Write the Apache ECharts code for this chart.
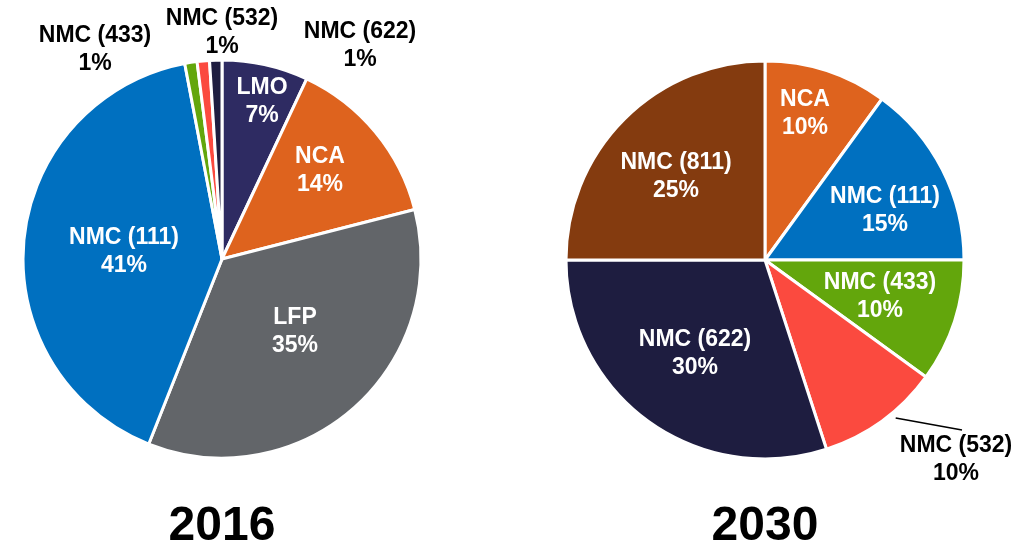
<!DOCTYPE html>
<html>
<head>
<meta charset="utf-8">
<script src="https://cdn.jsdelivr.net/npm/echarts@6/dist/echarts.min.js"></script>
<style>
html, body { margin: 0; padding: 0; background: #fff; }
#main { width: 1033px; height: 550px; }
</style>
</head>
<body>
<div id="main"></div>
<script>
// chemistry shares (%)
var names2016 = ["LMO", "NCA", "LFP", "NMC (111)", "NMC (433)", "NMC (532)", "NMC (622)"];
var values2016 = [7, 14, 35, 41, 1, 1, 1];
var names2030 = ["NCA", "NMC (111)", "NMC (433)", "NMC (532)", "NMC (622)", "NMC (811)"];
var values2030 = [10, 15, 10, 10, 30, 25];
var titles = ["2016", "2030"];

var colorMap = {
    "LMO": "#2e2b62",
    "NCA": "#de631e",
    "LFP": "#626569",
    "NMC (111)": "#0070c0",
    "NMC (433)": "#63a60c",
    "NMC (532)": "#fb4a3f",
    "NMC (622)": "#1e1d40",
    "NMC (811)": "#843b0f"
};

// label centres (px) - the chart places the pies, these just place text
var labelPos2016 = [[262, 102], [320, 171], [295, 332], [124, 252], [95, 50], [222, 33], [360, 46]];
var labelPos2030 = [[805, 114], [885, 211], [880, 297], [956, 460], [695, 354], [676, 177]];
var outside2016 = {"NMC (433)": 1, "NMC (532)": 1, "NMC (622)": 1};
var outside2030 = {"NMC (532)": 1};

var centers = [[222, 259], [765, 260]];
var pieRadius = 199;

var labelFont = {
    fontFamily: "Liberation Sans, Arial, sans-serif",
    fontWeight: "bold",
    fontSize: 23,
    lineHeight: 28
};

var buildData = function(names, values, outsideSet){
    return names.map(function(n, i){
        var out = !!outsideSet[n];
        return {
            name: n,
            value: values[i],
            itemStyle: { color: colorMap[n] },
            label: { color: out ? "#000" : "#fff" }
        };
    });
};

var makeLayout = function(pos){
    return function(params){
        var p = pos[params.dataIndex];
        return { x: p[0], y: p[1], align: "center", verticalAlign: "middle" };
    };
};

var pieBase = function(center, data, pos){
    return {
        type: "pie",
        radius: pieRadius,
        center: center,
        startAngle: 90,
        clockwise: true,
        avoidLabelOverlap: false,
        animation: false,
        itemStyle: { borderColor: "#fff", borderWidth: 3 },
        label: Object.assign({ show: true, position: "inside", formatter: "{b}\n{c}%" }, labelFont),
        labelLine: { show: false },
        labelLayout: makeLayout(pos),
        emphasis: { disabled: true },
        data: data
    };
};

// leader line for the 2030 NMC (532) slice: from just outside the slice to above the label
var leaderLine = function(){
    var idx = names2030.indexOf("NMC (532)");
    var total = 0, before = 0;
    for (var i = 0; i < values2030.length; i++) {
        total += values2030[i];
        if (i < idx) before += values2030[i];
    }
    var frac = (before + values2030[idx] * 0.4) / total;
    var ang = frac * Math.PI * 2;
    var c = centers[1];
    var r = pieRadius + 6;
    var lp = labelPos2030[idx];
    return {
        type: "line",
        silent: true,
        shape: {
            x1: c[0] + r * Math.sin(ang), y1: c[1] - r * Math.cos(ang),
            x2: lp[0] + 6, y2: lp[1] - 30
        },
        style: { stroke: "#000", lineWidth: 1.5 }
    };
};

var titleStyle = { fontFamily: "Liberation Sans Narrow, Arial Narrow, sans-serif", fontWeight: "bold", fontSize: 48, color: "#000" };

var myChart = echarts.init(document.getElementById("main"));
myChart.setOption({
    backgroundColor: "#fff",
    title: [{
        text: titles[0],
        left: centers[0][0] - 5, top: 498,
        textAlign: "center",
        textStyle: titleStyle
    }, {
        text: titles[1],
        left: centers[1][0] - 5, top: 498,
        textAlign: "center",
        textStyle: titleStyle
    }],
    graphic: [leaderLine()],
    series: [
        pieBase(centers[0], buildData(names2016, values2016, outside2016), labelPos2016),
        pieBase(centers[1], buildData(names2030, values2030, outside2030), labelPos2030)
    ]
});
</script>
</body>
</html>
